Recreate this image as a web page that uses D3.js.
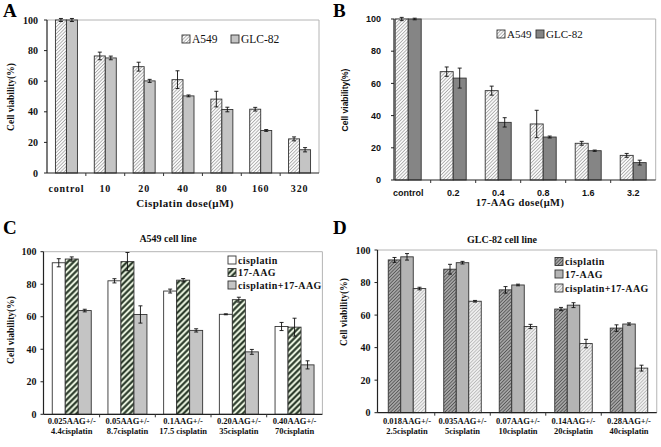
<!DOCTYPE html>
<html><head><meta charset="utf-8">
<script src="https://cdn.jsdelivr.net/npm/d3@7"></script>
<style>body{margin:0;background:#fff;} svg{display:block}</style>
</head><body>
<script>
// ---------- DATA ----------
// Panel A
const dosesA = ["control","10","20","40","80","160","320"];
const a549A = [100,76.5,69.5,61,48.3,41.7,22.3];
const a549AErr = [1,2.5,2.9,5.8,5.1,1.2,1.3];
const glcA = [100,75.2,60.2,50.4,41.5,27.8,15.2];
const glcAErr = [1,1.2,1,0.6,1.5,0.6,1.4];
// Panel B
const dosesB = ["control","0.2","0.4","0.8","1.6","3.2"];
const a549B = [100,67.3,55.5,34.8,22.8,15.3];
const a549BErr = [1,2.9,2.8,8.5,1.2,1.2];
const glcB = [100,63.3,35.8,26.7,18.2,10.8];
const glcBErr = [0.5,6.2,2.9,0.6,0.4,1.5];
// Panel C
const labelsC = [["0.025AAG+/-","4.4cisplatin"],["0.05AAG+/-","8.7cisplatin"],["0.1AAG+/-","17.5 cisplatin"],["0.20AAG+/-","35cisplatin"],["0.40AAG+/-","70cisplatin"]];
const cisC = [93.2,82.1,75.8,61.5,54];
const cisCErr = [2.5,1.3,1.2,0.3,2.5];
const aagC = [95.5,93.9,82.5,70.5,53.6];
const aagCErr = [1.3,5.6,1,1.5,5.5];
const comboC = [63.8,61.4,51.6,38.4,30.4];
const comboCErr = [0.8,5.3,1,1.5,2.5];
// Panel D
const labelsD = [["0.018AAG+/-","2.5cisplatin"],["0.035AAG+/-","5cisplatin"],["0.07AAG+/-","10cisplatin"],["0.14AAG+/-","20cisplatin"],["0.28AAG+/-","40cisplatin"]];
const cisD = [93.9,88.2,75.5,63.7,52];
const cisDErr = [1.5,3,2,1,2];
const aagD = [95.8,92.2,78.5,66.1,54.5];
const aagDErr = [2,0.8,0.5,1.5,0.7];
const comboD = [76.3,68.5,53,42.5,27.4];
const comboDErr = [0.8,0.5,1.3,2.6,1.8];
const yTicks = [0,20,40,60,80,100];

// ---------- DRAW ----------
const W = 661, H = 447;
const svg = d3.select("body").append("svg").attr("width", W).attr("height", H);
const defs = svg.append("defs");
function hatch(id, bg, line, lw, gap){
  const p = defs.append("pattern").attr("id", id).attr("patternUnits","userSpaceOnUse")
    .attr("width", gap).attr("height", gap).attr("patternTransform","rotate(45)");
  p.append("rect").attr("width", gap).attr("height", gap).attr("fill", bg);
  p.append("line").attr("x1", gap/2).attr("x2", gap/2).attr("y1",0).attr("y2",gap)
    .attr("stroke", line).attr("stroke-width", lw);
}
hatch("hLight", "#ffffff", "#a8a8a8", 0.9, 2.4);
hatch("hGreen", "#e6f0dc", "#1f2f1f", 2.0, 4.2);
hatch("hDark", "#b0b0b0", "#555555", 1.0, 2.4);
hatch("hPale", "#f2f2f2", "#b8b8b8", 0.9, 2.4);

const SERIF = "'Liberation Serif','Times New Roman',serif";
const SANS = "'Liberation Sans',Arial,sans-serif";

function panel(cfg){
  const g = svg.append("g");
  const x = d3.scaleBand().domain(d3.range(cfg.cats.length)).range([cfg.x0, cfg.x1]);
  const y = d3.scaleLinear().domain([0,100]).range([cfg.yBot, cfg.yTop]);
  const n = cfg.series.length;
  const bw = cfg.barW;
  // frame
  g.append("line").attr("x1", cfg.axisX).attr("x2", cfg.x1).attr("y1", cfg.yTop).attr("y2", cfg.yTop)
    .attr("stroke", "#b4b4b4").attr("stroke-width", 1);
  g.append("line").attr("x1", cfg.x1).attr("x2", cfg.x1).attr("y1", cfg.yTop).attr("y2", cfg.yBot)
    .attr("stroke", "#b4b4b4").attr("stroke-width", 1);
  // bars
  cfg.series.forEach((s, si) => {
    const off = -n*bw/2 + si*bw;
    g.selectAll(null).data(s.vals).enter().append("rect")
      .attr("x", (d,i) => x(i) + x.bandwidth()/2 + off)
      .attr("y", d => y(d))
      .attr("width", bw).attr("height", d => cfg.yBot - y(d))
      .attr("fill", s.fill).attr("stroke", "#333").attr("stroke-width", 0.9);
    // error bars
    s.vals.forEach((v,i) => {
      const cx = x(i) + x.bandwidth()/2 + off + bw/2;
      const e = s.errs[i];
      const y1 = y(Math.min(v+e, 100.4)), y2 = y(v-e);
      g.append("line").attr("x1",cx).attr("x2",cx).attr("y1",y(v+e)).attr("y2",y2).attr("stroke","#111").attr("stroke-width",0.9);
      [y(v+e), y2].forEach(yy => g.append("line").attr("x1",cx-2).attr("x2",cx+2).attr("y1",yy).attr("y2",yy).attr("stroke","#111").attr("stroke-width",0.9));
    });
  });
  // axes
  g.append("line").attr("x1", cfg.axisX).attr("x2", cfg.x1).attr("y1", cfg.yBot).attr("y2", cfg.yBot)
    .attr("stroke", "#222").attr("stroke-width", 1.2);
  g.append("line").attr("x1", cfg.axisX).attr("x2", cfg.axisX).attr("y1", cfg.yTop).attr("y2", cfg.yBot)
    .attr("stroke", "#222").attr("stroke-width", 1.2);
  // x ticks at category boundaries
  d3.range(1, cfg.cats.length).forEach(i => {
    g.append("line").attr("x1", x(i)).attr("x2", x(i)).attr("y1", cfg.yBot).attr("y2", cfg.yBot+3)
      .attr("stroke","#333").attr("stroke-width",1);
  });
  // y ticks
  yTicks.forEach(t => {
    g.append("line").attr("x1", cfg.axisX-3).attr("x2", cfg.axisX).attr("y1", y(t)).attr("y2", y(t))
      .attr("stroke","#222").attr("stroke-width",1);
    g.append("text").attr("x", cfg.axisX - cfg.yLabGap).attr("y", y(t)).attr("dy","0.35em")
      .attr("text-anchor","end").attr("font-family", cfg.tickFont).attr("font-weight","bold")
      .attr("font-size", cfg.tickSize).attr("fill","#111").text(t);
  });
  // x labels
  cfg.cats.forEach((c,i) => {
    const cx = x(i) + x.bandwidth()/2;
    const lines = Array.isArray(c) ? c : [c];
    lines.forEach((l, li) => {
      g.append("text").attr("x", cx).attr("y", cfg.xLabY + li*cfg.xLabLH)
        .attr("text-anchor","middle").attr("font-family", cfg.tickFont).attr("font-weight","bold")
        .attr("font-size", cfg.xTickSize || cfg.tickSize).attr("letter-spacing", cfg.xLS || 0)
        .attr("fill","#111").text(l);
    });
  });
  // y title
  g.append("text").attr("transform", `translate(${cfg.yTitleX},${cfg.yTitleY}) rotate(-90)`)
    .attr("text-anchor","middle").attr("font-family", cfg.yTitleFont).attr("font-weight","bold")
    .attr("font-size", cfg.yTitleSize).attr("fill","#111").text("Cell viability(%)");
  // x title
  if (cfg.xTitle) g.append("text").attr("x", cfg.xTitleX).attr("y", cfg.xTitleY)
    .attr("text-anchor","middle").attr("font-family", SERIF).attr("font-weight","bold")
    .attr("font-size", cfg.xTitleSize).attr("letter-spacing", 0.4).attr("fill","#111").text(cfg.xTitle);
  if (cfg.title) g.append("text").attr("x", cfg.titleX).attr("y", cfg.titleY)
    .attr("text-anchor","middle").attr("font-family", SERIF).attr("font-weight","bold")
    .attr("font-size", 10).attr("fill","#111").text(cfg.title);
  // panel letter
  g.append("text").attr("x", cfg.letterX).attr("y", cfg.letterY).attr("font-family", SERIF)
    .attr("font-weight","bold").attr("font-size", 19).attr("fill","#000").text(cfg.letter);
  // legend
  cfg.legend.forEach(L => {
    g.append("rect").attr("x", L.x).attr("y", L.y-4).attr("width", 8).attr("height", 8)
      .attr("fill", L.fill).attr("stroke","#333").attr("stroke-width",0.9);
    g.append("text").attr("x", L.x+10).attr("y", L.y).attr("dy","0.35em")
      .attr("font-family", SERIF).attr("font-weight", L.bold ? "bold":"normal")
      .attr("font-size", L.size).attr("letter-spacing", L.bold ? 0.4 : 0).attr("fill","#111").text(L.text);
  });
}

panel({
  letter:"A", letterX:3, letterY:17,
  cats: dosesA, x0:47, x1:319, axisX:47, yTop:20, yBot:173, barW:11,
  series:[{vals:a549A, errs:a549AErr, fill:"url(#hLight)"},{vals:glcA, errs:glcAErr, fill:"#c4c4c4"}],
  tickFont: SERIF, tickSize:10, yLabGap:9, xLabY:192, xLabLH:0, xLS:0.8,
  yTitleX:14, yTitleY:97, yTitleFont:SERIF, yTitleSize:9.5,
  xTitle:"Cisplatin dose(μM)", xTitleX:185, xTitleY:207, xTitleSize:11,
  legend:[{x:182,y:39,fill:"url(#hLight)",text:"A549",size:11.5},{x:231,y:39,fill:"#c4c4c4",text:"GLC-82",size:11.5}]
});
panel({
  letter:"B", letterX:333, letterY:17,
  cats: dosesB, x0:385.7, x1:655.7, axisX:394, yTop:19, yBot:180, barW:13,
  series:[{vals:a549B, errs:a549BErr, fill:"url(#hLight)"},{vals:glcB, errs:glcBErr, fill:"#858585"}],
  tickFont: SANS, tickSize:9, yLabGap:13, xLabY:196, xLabLH:0,
  yTitleX:348, yTitleY:100, yTitleFont:SANS, yTitleSize:8.5,
  xTitle:"17-AAG dose(μM)", xTitleX:520, xTitleY:206, xTitleSize:10.5,
  legend:[{x:497,y:34,fill:"url(#hLight)",text:"A549",size:11},{x:536,y:34,fill:"#858585",text:"GLC-82",size:11}]
});
panel({
  letter:"C", letterX:3, letterY:234,
  cats: labelsC, x0:43.9, x1:322.4, axisX:43.5, yTop:251.7, yBot:414.3, barW:13,
  series:[{vals:cisC, errs:cisCErr, fill:"#ffffff"},{vals:aagC, errs:aagCErr, fill:"url(#hGreen)"},{vals:comboC, errs:comboCErr, fill:"#c4c4c4"}],
  tickFont: SERIF, tickSize:10, xTickSize:8.5, yLabGap:7, xLabY:424, xLabLH:10,
  yTitleX:14, yTitleY:330, yTitleFont:SERIF, yTitleSize:9.5,
  title:"A549 cell line", titleX:168, titleY:242,
  legend:[{x:228,y:260,fill:"#ffffff",text:"cisplatin",size:10,bold:true},{x:228,y:272.5,fill:"url(#hGreen)",text:"17-AAG",size:10,bold:true},{x:228,y:285,fill:"#c4c4c4",text:"cisplatin+17-AAG",size:10,bold:true}]
});
panel({
  letter:"D", letterX:333, letterY:234,
  cats: labelsD, x0:379.25, x1:656.75, axisX:377.5, yTop:250, yBot:412.7, barW:12.5,
  series:[{vals:cisD, errs:cisDErr, fill:"url(#hDark)"},{vals:aagD, errs:aagDErr, fill:"#b4b4b4"},{vals:comboD, errs:comboDErr, fill:"url(#hPale)"}],
  tickFont: SERIF, tickSize:10, xTickSize:8.5, yLabGap:7, xLabY:424, xLabLH:10,
  yTitleX:347, yTitleY:312, yTitleFont:SERIF, yTitleSize:9.5,
  title:"GLC-82 cell line", titleX:502, titleY:243,
  legend:[{x:555,y:261.5,fill:"url(#hDark)",text:"cisplatin",size:10,bold:true},{x:555,y:274,fill:"#b4b4b4",text:"17-AAG",size:10,bold:true},{x:555,y:288,fill:"url(#hPale)",text:"cisplatin+17-AAG",size:10,bold:true}]
});
</script>
</body></html>
